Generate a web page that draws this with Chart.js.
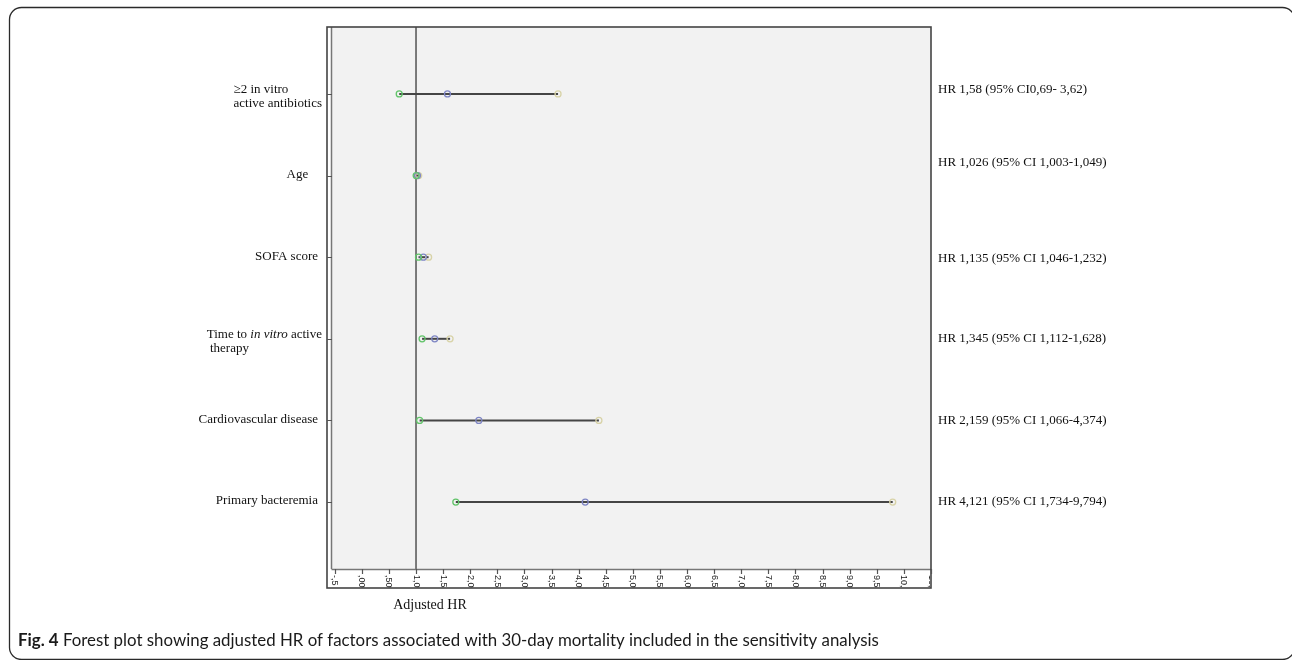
<!DOCTYPE html>
<html><head><meta charset="utf-8">
<script src="https://cdn.jsdelivr.net/npm/chart.js@4.4.1/dist/chart.umd.min.js"></script>
<style>html,body{margin:0;padding:0;background:#fff;} canvas{display:block;}</style>
</head><body>
<canvas id="c" width="1292" height="660"></canvas>
<script>
// ---- data ----
const factors = ["≥2 in vitro active antibiotics", "Age", "SOFA score", "Time to in vitro active therapy", "Cardiovascular disease", "Primary bacteremia"];
const hr     = [1.58, 1.026, 1.135, 1.345, 2.159, 4.121];
const ciLow  = [0.69, 1.003, 1.046, 1.112, 1.066, 1.734];
const ciHigh = [3.62, 1.049, 1.232, 1.628, 4.374, 9.794];
const hrLabels = [
  "HR 1,58 (95% CI0,69- 3,62)",
  "HR 1,026 (95% CI 1,003-1,049)",
  "HR 1,135 (95% CI 1,046-1,232)",
  "HR 1,345 (95% CI 1,112-1,628)",
  "HR 2,159 (95% CI 1,066-4,374)",
  "HR 4,121 (95% CI 1,734-9,794)"
];
const xTickValues = [-0.5, 0, 0.5, 1, 1.5, 2, 2.5, 3, 3.5, 4, 4.5, 5, 5.5, 6, 6.5, 7, 7.5, 8, 8.5, 9, 9.5, 10, 10.5];
const xTickLabels = ["-,5", ",00", ",50", "1,0", "1,5", "2,0", "2,5", "3,0", "3,5", "4,0", "4,5", "5,0", "5,5", "6,0", "6,5", "7,0", "7,5", "8,0", "8,5", "9,0", "9,5", "10,", "10,"];
const refValue = 1;
const axisTitle = "Adjusted HR";
const captionBold = "Fig. 4";
const captionText = " Forest plot showing adjusted HR of factors associated with 30-day mortality included in the sensitivity analysis";

// display lines for the factor labels (segments: [text, italic])
const factorLines = [
  [[["≥2 in vitro", false]], [["active antibiotics", false]]],
  [[["Age   ", false]]],
  [[["SOFA score", false]]],
  [[["Time to ", false], ["in vitro", true], [" active", false]], [[" therapy", false]]],
  [[["Cardiovascular disease", false]]],
  [[["Primary bacteremia", false]]]
];
const hrLabelNudge = [-4, -13, 1, 0, 0, 0];

// ---- build datasets ----
const catPos = factors.map((f, i) => i + 1);
const Y_MIN = 0.18, Y_MAX = 6.82;
const datasets = [];
datasets.push({ label: 'low', data: catPos.map((y, i) => ({x: ciLow[i], y})), pointRadius: 3, pointBorderWidth: 1.3,
  pointBorderColor: '#62c46a', pointBackgroundColor: 'rgba(0,0,0,0)', showLine: false, order: 0 });
datasets.push({ label: 'hr', data: catPos.map((y, i) => ({x: hr[i], y})), pointRadius: 3, pointBorderWidth: 1.3,
  pointBorderColor: '#7f86c4', pointBackgroundColor: 'rgba(0,0,0,0)', showLine: false, order: 0 });
datasets.push({ label: 'high', data: catPos.map((y, i) => ({x: ciHigh[i], y})), pointRadius: 3, pointBorderWidth: 1.3,
  pointBorderColor: '#d8d3a8', pointBackgroundColor: 'rgba(0,0,0,0)', showLine: false, order: 0 });
catPos.forEach((y, i) => {
  datasets.push({ label: 'ci' + i, data: [{x: ciLow[i], y}, {x: ciHigh[i], y}], showLine: true, pointRadius: 0,
    borderColor: '#454545', borderWidth: 2, order: 5 });
});
datasets.push({ label: 'ref', data: [{x: refValue, y: Y_MIN}, {x: refValue, y: Y_MAX}], showLine: true, pointRadius: 0,
  borderColor: '#5e5e5e', borderWidth: 1.6, order: 10 });

function roundRect(ctx, x, y, w, h, r) {
  ctx.beginPath();
  ctx.moveTo(x + r, y);
  ctx.lineTo(x + w - r, y);
  ctx.arcTo(x + w, y, x + w, y + r, r);
  ctx.lineTo(x + w, y + h - r);
  ctx.arcTo(x + w, y + h, x + w - r, y + h, r);
  ctx.lineTo(x + r, y + h);
  ctx.arcTo(x, y + h, x, y + h - r, r);
  ctx.lineTo(x, y + r);
  ctx.arcTo(x, y, x + r, y, r);
  ctx.closePath();
}

const decor = {
  id: 'decor',
  beforeDraw(chart) {
    const {ctx, chartArea: a} = chart;
    ctx.save();
    ctx.fillStyle = '#fff';
    ctx.fillRect(0, 0, chart.width, chart.height);
    ctx.fillStyle = '#f2f2f2';
    ctx.fillRect(a.left, a.top, a.right - a.left, a.bottom - a.top);
    ctx.restore();
  },
  afterDraw(chart) {
    const {ctx, chartArea: a} = chart;
    const xs = chart.scales.x, ys = chart.scales.y;
    const frameL = a.left - 5, frameB = a.bottom + 19;
    ctx.save();
    // outer figure border
    ctx.strokeStyle = '#2a2a2a'; ctx.lineWidth = 1.3;
    roundRect(ctx, 9.5, 7.5, 1285, 652, 12);
    ctx.stroke();
    // inner axis lines
    ctx.strokeStyle = '#777'; ctx.lineWidth = 1.5;
    ctx.beginPath();
    ctx.moveTo(a.left - 0.5, a.top); ctx.lineTo(a.left - 0.5, a.bottom);
    ctx.moveTo(a.left - 0.5, a.bottom + 0.5); ctx.lineTo(a.right, a.bottom + 0.5);
    ctx.stroke();
    // outer plot frame
    ctx.strokeStyle = '#444'; ctx.lineWidth = 1.6;
    ctx.strokeRect(frameL, a.top, a.right - frameL, frameB - a.top);
    // y ticks
    ctx.strokeStyle = '#555'; ctx.lineWidth = 1.2;
    ctx.beginPath();
    catPos.forEach(v => { const y = Math.round(ys.getPixelForValue(v)) + 0.5; ctx.moveTo(frameL, y); ctx.lineTo(a.left, y); });
    // x ticks
    xTickValues.forEach(v => { const x = Math.round(xs.getPixelForValue(v)) + 0.5; ctx.moveTo(x, a.bottom); ctx.lineTo(x, a.bottom + 5); });
    ctx.stroke();
    // x tick labels (rotated clockwise, clipped by frame)
    ctx.save();
    ctx.beginPath(); ctx.rect(frameL, a.bottom, a.right - frameL - 1, frameB - a.bottom); ctx.clip();
    ctx.fillStyle = '#222';
    ctx.font = '9px "Liberation Sans"';
    ctx.textAlign = 'left'; ctx.textBaseline = 'middle';
    xTickValues.forEach((v, i) => {
      const x = xs.getPixelForValue(v);
      ctx.save(); ctx.translate(x, a.bottom + 6); ctx.rotate(Math.PI / 2);
      ctx.fillText(xTickLabels[i], 0, 0); ctx.restore();
    });
    ctx.restore();
    // factor labels
    ctx.fillStyle = '#111';
    ctx.textBaseline = 'middle';
    const fontN = '13px "Liberation Serif"', fontI = 'italic 13px "Liberation Serif"';
    const rightEdge = 318;
    const lineW = segs => segs.reduce((s, [t, it]) => { ctx.font = it ? fontI : fontN; return s + ctx.measureText(t).width; }, 0);
    factorLines.forEach((lines, i) => {
      const yc = ys.getPixelForValue(catPos[i]);
      if (lines.length === 1) {
        let w = lineW(lines[0]);
        let x = rightEdge - w;
        lines[0].forEach(([t, it]) => { ctx.font = it ? fontI : fontN; ctx.textAlign = 'left'; ctx.fillText(t, x, yc - 1); x += ctx.measureText(t).width; });
      } else {
        const maxW = Math.max(...lines.map(lineW));
        const left = rightEdge + 4 - maxW;
        lines.forEach((segs, li) => {
          let x = left;
          const y = yc - 4.5 + li * 14.5;
          segs.forEach(([t, it]) => { ctx.font = it ? fontI : fontN; ctx.textAlign = 'left'; ctx.fillText(t, x, y); x += ctx.measureText(t).width; });
        });
      }
    });
    // HR labels on right
    ctx.font = fontN; ctx.textAlign = 'left';
    hrLabels.forEach((t, i) => {
      ctx.fillText(t, a.right + 7, ys.getPixelForValue(catPos[i]) + hrLabelNudge[i]);
    });
    // axis title
    ctx.font = '14px "Liberation Serif"'; ctx.textAlign = 'center';
    ctx.fillText(axisTitle, a.left + 98, 605);
    // caption
    ctx.textAlign = 'left'; ctx.textBaseline = 'alphabetic';
    const fam = 'Lato';
    ctx.font = 'bold 16px ' + fam; const wb = ctx.measureText(captionBold).width;
    ctx.font = '16px ' + fam; const wr = ctx.measureText(captionText).width;
    const size = Math.max(13, Math.min(18, 16 * 862 / (wb + wr)));
    ctx.fillStyle = '#1a1a1a';
    ctx.font = 'bold ' + size.toFixed(2) + 'px ' + fam;
    ctx.fillText(captionBold, 18, 646);
    const w2 = ctx.measureText(captionBold).width;
    ctx.font = size.toFixed(2) + 'px ' + fam;
    ctx.fillText(captionText, 18 + w2, 646);
    ctx.restore();
  }
};

new Chart(document.getElementById('c'), {
  type: 'scatter',
  data: { datasets },
  options: {
    responsive: false,
    animation: false,
    events: [],
    layout: { padding: { left: 332, top: 27, right: 361, bottom: 91 } },
    plugins: { legend: { display: false }, tooltip: { enabled: false } },
    scales: {
      x: { type: 'linear', min: -0.55, max: 10.5, display: false },
      y: { type: 'linear', min: Y_MIN, max: Y_MAX, reverse: true, display: false }
    }
  },
  plugins: [decor]
});
</script>
</body></html>
